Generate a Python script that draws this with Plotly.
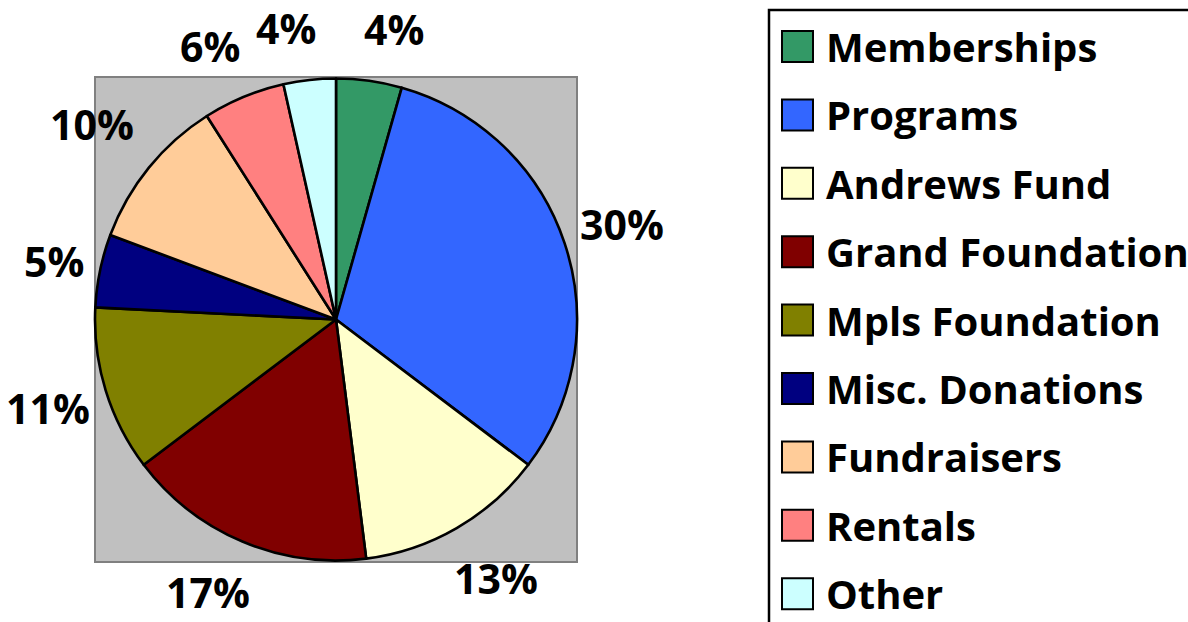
import math
import plotly.graph_objects as go

# ---- data ----
categories = ["Memberships", "Programs", "Andrews Fund", "Grand Foundation",
              "Mpls Foundation", "Misc. Donations", "Fundraisers", "Rentals", "Other"]
values = [4.4, 30.9, 12.7, 16.7, 11.1, 4.9, 10.3, 5.5, 3.5]
pct_labels = ["4%", "30%", "13%", "17%", "11%", "5%", "10%", "6%", "4%"]
colors = ["#339966", "#3366FF", "#FFFFCC", "#800000", "#808000",
          "#000080", "#FFCC99", "#FF8080", "#CCFFFF"]

W, H = 1188, 622
# plot area (pixels from top-left)
px0, px1, py0, py1 = 95, 577, 77, 562
FS = 41
LFS = 40
FONT = "Open Sans"

fig = go.Figure()
fig.add_trace(go.Pie(
    labels=categories, values=values, sort=False, direction="clockwise",
    rotation=0, marker=dict(colors=colors, line=dict(color="black", width=2.6)),
    textinfo="none", hoverinfo="label+percent", showlegend=False,
    domain=dict(x=[px0 / W, px1 / W], y=[1 - py1 / H, 1 - py0 / H]),
))

shapes = []
# gray plot area
shapes.append(dict(type="rect", xref="paper", yref="paper",
                   x0=px0 / W, x1=px1 / W, y0=1 - py1 / H, y1=1 - py0 / H,
                   fillcolor="#C0C0C0", line=dict(color="#808080", width=2), layer="below"))

annotations = []
# percentage labels outside each slice
cx = (px0 + px1) / 2
cy = (py0 + py1) / 2
r = min(px1 - px0, py1 - py0) / 2
total = sum(values)
cum = 0.0
gap, hh, push = 16, 36, 18
for v, txt in zip(values, pct_labels):
    mid = (cum + v / 2) / total
    cum += v
    theta = 2 * math.pi * mid
    dx, dy = math.sin(theta), -math.cos(theta)
    ndig = len(txt) - 1
    hw = (ndig * 0.58 + 0.88) * FS / 2
    ext = min(hw / abs(dx) if abs(dx) > 1e-6 else 1e9, hh / abs(dy) if abs(dy) > 1e-6 else 1e9)
    d = r + gap + ext
    x = cx + d * dx + math.copysign(push * dy ** 4, dx)
    y = cy + d * dy
    annotations.append(dict(x=x / W, y=1 - y / H, xref="paper", yref="paper",
                            text=txt, showarrow=False, xanchor="center", yanchor="middle",
                            font=dict(family=FONT, size=FS, color="black", weight="bold")))

# legend (frame, swatches, labels)
lx0, ly0 = 769, 10
shapes.append(dict(type="rect", xref="paper", yref="paper",
                   x0=lx0 / W, x1=(W + 20) / W, y0=-0.1, y1=1 - ly0 / H,
                   fillcolor="white", line=dict(color="black", width=2.5), layer="below"))
sw, step, first = 31, 68.4, 46.5
for i, (cat, col) in enumerate(zip(categories, colors)):
    yc = first + step * i
    shapes.append(dict(type="rect", xref="paper", yref="paper",
                       x0=782 / W, x1=(782 + sw) / W,
                       y0=1 - (yc + sw / 2) / H, y1=1 - (yc - sw / 2) / H,
                       fillcolor=col, line=dict(color="black", width=2)))
    annotations.append(dict(x=824 / W, y=1 - yc / H, xref="paper", yref="paper",
                            text=cat, showarrow=False, xanchor="left", yanchor="middle",
                            font=dict(family=FONT, size=LFS, color="black", weight="bold")))

fig.update_layout(width=W, height=H, margin=dict(l=0, r=0, t=0, b=0),
                  paper_bgcolor="white", plot_bgcolor="white",
                  shapes=shapes, annotations=annotations, showlegend=False)
fig.write_html("out.html", config={"displayModeBar": False},
               post_script="document.body.style.margin='0';document.body.style.overflow='hidden';")
